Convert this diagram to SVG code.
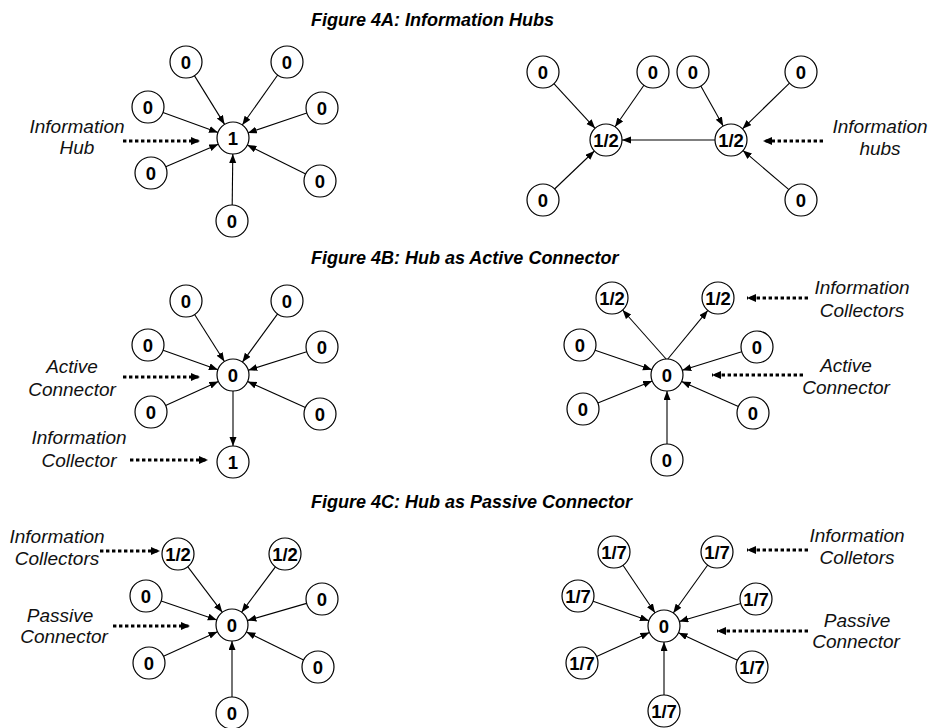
<svg xmlns="http://www.w3.org/2000/svg" width="930" height="728" viewBox="0 0 930 728">
  <style>
    .title { font-family: "Liberation Sans", Arial, sans-serif; font-size: 18px; font-weight: bold; font-style: italic; fill: #000; }
    .lbl { font-family: "Liberation Sans", Arial, sans-serif; font-size: 19px; font-style: italic; fill: #111; text-anchor: middle; }
    .node circle { fill: #fff; stroke: #000; stroke-width: 1.2; }
    .node text { font-family: "Liberation Sans", Arial, sans-serif; font-size: 18.5px; font-weight: bold; fill: #000; text-anchor: middle; }
    .edge { fill: none; stroke: #000; stroke-width: 1.1; marker-end: url(#head); }
    .pointer { fill: none; stroke: #000; stroke-width: 3; stroke-dasharray: 3.4 2.6; marker-end: url(#bighead); }
  </style>
  <defs>
    <marker id="head" markerUnits="userSpaceOnUse" markerWidth="10" markerHeight="8" refX="9" refY="3.5" orient="auto">
      <path d="M0,0 L9,3.5 L0,7 z" fill="#000"/>
    </marker>
    <marker id="bighead" markerUnits="userSpaceOnUse" markerWidth="10" markerHeight="9" refX="9" refY="4" orient="auto">
      <path d="M0,0 L9,4 L0,8 z" fill="#000"/>
    </marker>
  </defs>
  <rect width="930" height="728" fill="#fff"/>

  <!-- panel titles -->
  <text class="title" x="311" y="26">Figure 4A: Information Hubs</text>
  <text class="title" x="311" y="264">Figure 4B: Hub as Active Connector</text>
  <text class="title" x="311" y="508">Figure 4C: Hub as Passive Connector</text>

  <!-- connectors -->
  <g id="connectors">
    <!-- 4A left -->
    <line class="edge" x1="194.4" y1="75.6" x2="224.6" y2="124.4"/>
    <line class="edge" x1="277.7" y1="75.0" x2="242.3" y2="125.0"/>
    <line class="edge" x1="163.0" y1="112.5" x2="218.0" y2="132.5"/>
    <line class="edge" x1="306.8" y1="113.1" x2="247.8" y2="132.9"/>
    <line class="edge" x1="165.7" y1="166.7" x2="218.3" y2="144.3"/>
    <line class="edge" x1="305.7" y1="173.9" x2="247.3" y2="145.1"/>
    <line class="edge" x1="232.2" y1="205" x2="232.8" y2="154"/>
    <!-- 4A right -->
    <line class="edge" x1="553.9" y1="83.7" x2="595.1" y2="128.3"/>
    <line class="edge" x1="643.9" y1="85.2" x2="615.1" y2="126.8"/>
    <line class="edge" x1="554.6" y1="189.0" x2="594.4" y2="151.0"/>
    <line class="edge" x1="700.8" y1="86.0" x2="723.2" y2="126.0"/>
    <line class="edge" x1="789.5" y1="83.2" x2="742.5" y2="128.8"/>
    <line class="edge" x1="788.9" y1="189.6" x2="742.9" y2="150.4"/>
    <line class="edge" x1="715" y1="140" x2="622" y2="140"/>
    <!-- 4B left -->
    <line class="edge" x1="194.6" y1="314.5" x2="224.4" y2="361.5"/>
    <line class="edge" x1="277.6" y1="313.9" x2="242.4" y2="362.1"/>
    <line class="edge" x1="163.1" y1="350.3" x2="217.9" y2="369.7"/>
    <line class="edge" x1="306.7" y1="351.8" x2="248.3" y2="370.2"/>
    <line class="edge" x1="165.6" y1="405.4" x2="218.4" y2="381.6"/>
    <line class="edge" x1="305.4" y1="407.5" x2="247.6" y2="381.5"/>
    <line class="edge" x1="233" y1="391" x2="233" y2="446"/>
    <!-- 4B right -->
    <line class="edge" x1="667" y1="360" x2="622.6" y2="310.0"/>
    <line class="edge" x1="667" y1="360" x2="707.8" y2="310.4"/>
    <line class="edge" x1="595.1" y1="350.2" x2="651.9" y2="369.8"/>
    <line class="edge" x1="741.7" y1="351.8" x2="682.3" y2="370.2"/>
    <line class="edge" x1="597.8" y1="403.0" x2="652.2" y2="381.0"/>
    <line class="edge" x1="738.4" y1="406.5" x2="681.6" y2="381.5"/>
    <line class="edge" x1="667" y1="444" x2="667" y2="391"/>
    <!-- 4C left -->
    <line class="edge" x1="187.7" y1="566.7" x2="222.3" y2="612.3"/>
    <line class="edge" x1="275.4" y1="566.8" x2="241.6" y2="612.2"/>
    <line class="edge" x1="161.2" y1="601.1" x2="216.8" y2="619.9"/>
    <line class="edge" x1="306.6" y1="603.4" x2="247.4" y2="620.6"/>
    <line class="edge" x1="163.5" y1="656.3" x2="217.5" y2="631.7"/>
    <line class="edge" x1="303.6" y1="660.0" x2="246.4" y2="632.0"/>
    <line class="edge" x1="232" y1="697" x2="232" y2="641"/>
    <!-- 4C right -->
    <line class="edge" x1="623.0" y1="565.3" x2="655.0" y2="612.7"/>
    <line class="edge" x1="707.7" y1="565.0" x2="673.3" y2="613.0"/>
    <line class="edge" x1="593.1" y1="601.3" x2="648.9" y2="620.7"/>
    <line class="edge" x1="740.7" y1="603.5" x2="679.3" y2="621.5"/>
    <line class="edge" x1="596.6" y1="656.4" x2="649.4" y2="632.6"/>
    <line class="edge" x1="737.5" y1="660.2" x2="678.5" y2="632.8"/>
    <line class="edge" x1="664" y1="695" x2="664" y2="642"/>

    <!-- dotted label pointers -->
    <line class="pointer" x1="123" y1="141" x2="200" y2="141"/>
    <line class="pointer" x1="823" y1="141" x2="763" y2="141"/>
    <line class="pointer" x1="123" y1="377" x2="200" y2="377"/>
    <line class="pointer" x1="130" y1="460" x2="208" y2="460"/>
    <line class="pointer" x1="808" y1="298" x2="747" y2="298"/>
    <line class="pointer" x1="803" y1="375" x2="712" y2="375"/>
    <line class="pointer" x1="100" y1="551" x2="160" y2="551"/>
    <line class="pointer" x1="113" y1="626" x2="190" y2="626"/>
    <line class="pointer" x1="808" y1="550" x2="747" y2="550"/>
    <line class="pointer" x1="808" y1="631" x2="717" y2="631"/>
  </g>

  <!-- 4A left: single hub -->
  <g id="a1-hub" class="node"><circle cx="233" cy="138" r="16"/><text x="233" y="144.5">1</text></g>
  <g id="a1-n1" class="node"><circle cx="186" cy="62" r="16"/><text x="186" y="68.5">0</text></g>
  <g id="a1-n2" class="node"><circle cx="287" cy="62" r="16"/><text x="287" y="68.5">0</text></g>
  <g id="a1-n3" class="node"><circle cx="148" cy="107" r="16"/><text x="148" y="113.5">0</text></g>
  <g id="a1-n4" class="node"><circle cx="322" cy="108" r="16"/><text x="322" y="114.5">0</text></g>
  <g id="a1-n5" class="node"><circle cx="151" cy="173" r="16"/><text x="151" y="179.5">0</text></g>
  <g id="a1-n6" class="node"><circle cx="320" cy="181" r="16"/><text x="320" y="187.5">0</text></g>
  <g id="a1-n7" class="node"><circle cx="232" cy="221" r="16"/><text x="232" y="227.5">0</text></g>

  <!-- 4A right: two hubs -->
  <g id="a2-hubL" class="node"><circle cx="606" cy="140" r="16"/><text x="606" y="146.5">1/2</text></g>
  <g id="a2-hubR" class="node"><circle cx="731" cy="140" r="16"/><text x="731" y="146.5">1/2</text></g>
  <g id="a2-n1" class="node"><circle cx="543" cy="72" r="16"/><text x="543" y="78.5">0</text></g>
  <g id="a2-n2" class="node"><circle cx="653" cy="72" r="16"/><text x="653" y="78.5">0</text></g>
  <g id="a2-n3" class="node"><circle cx="543" cy="200" r="16"/><text x="543" y="206.5">0</text></g>
  <g id="a2-n4" class="node"><circle cx="693" cy="72" r="16"/><text x="693" y="78.5">0</text></g>
  <g id="a2-n5" class="node"><circle cx="801" cy="72" r="16"/><text x="801" y="78.5">0</text></g>
  <g id="a2-n6" class="node"><circle cx="801" cy="200" r="16"/><text x="801" y="206.5">0</text></g>

  <!-- 4B left: active connector with one collector -->
  <g id="b1-hub" class="node"><circle cx="233" cy="375" r="16"/><text x="233" y="381.5">0</text></g>
  <g id="b1-n1" class="node"><circle cx="186" cy="301" r="16"/><text x="186" y="307.5">0</text></g>
  <g id="b1-n2" class="node"><circle cx="287" cy="301" r="16"/><text x="287" y="307.5">0</text></g>
  <g id="b1-n3" class="node"><circle cx="148" cy="345" r="16"/><text x="148" y="351.5">0</text></g>
  <g id="b1-n4" class="node"><circle cx="322" cy="347" r="16"/><text x="322" y="353.5">0</text></g>
  <g id="b1-n5" class="node"><circle cx="151" cy="412" r="16"/><text x="151" y="418.5">0</text></g>
  <g id="b1-n6" class="node"><circle cx="320" cy="414" r="16"/><text x="320" y="420.5">0</text></g>
  <g id="b1-collector" class="node"><circle cx="233" cy="462" r="16"/><text x="233" y="468.5">1</text></g>

  <!-- 4B right: active connector with two collectors -->
  <g id="b2-hub" class="node"><circle cx="667" cy="375" r="16"/><text x="667" y="381.5">0</text></g>
  <g id="b2-c1" class="node"><circle cx="612" cy="298" r="16"/><text x="612" y="304.5">1/2</text></g>
  <g id="b2-c2" class="node"><circle cx="718" cy="298" r="16"/><text x="718" y="304.5">1/2</text></g>
  <g id="b2-n1" class="node"><circle cx="580" cy="345" r="16"/><text x="580" y="351.5">0</text></g>
  <g id="b2-n2" class="node"><circle cx="757" cy="347" r="16"/><text x="757" y="353.5">0</text></g>
  <g id="b2-n3" class="node"><circle cx="583" cy="409" r="16"/><text x="583" y="415.5">0</text></g>
  <g id="b2-n4" class="node"><circle cx="753" cy="413" r="16"/><text x="753" y="419.5">0</text></g>
  <g id="b2-n5" class="node"><circle cx="667" cy="460" r="16"/><text x="667" y="466.5">0</text></g>

  <!-- 4C left: passive connector, two collectors -->
  <g id="c1-hub" class="node"><circle cx="232" cy="625" r="16"/><text x="232" y="631.5">0</text></g>
  <g id="c1-c1" class="node"><circle cx="178" cy="554" r="16"/><text x="178" y="560.5">1/2</text></g>
  <g id="c1-c2" class="node"><circle cx="285" cy="554" r="16"/><text x="285" y="560.5">1/2</text></g>
  <g id="c1-n1" class="node"><circle cx="146" cy="596" r="16"/><text x="146" y="602.5">0</text></g>
  <g id="c1-n2" class="node"><circle cx="322" cy="599" r="16"/><text x="322" y="605.5">0</text></g>
  <g id="c1-n3" class="node"><circle cx="149" cy="663" r="16"/><text x="149" y="669.5">0</text></g>
  <g id="c1-n4" class="node"><circle cx="318" cy="667" r="16"/><text x="318" y="673.5">0</text></g>
  <g id="c1-n5" class="node"><circle cx="232" cy="713" r="16"/><text x="232" y="719.5">0</text></g>

  <!-- 4C right: passive connector, seven collectors -->
  <g id="c2-hub" class="node"><circle cx="664" cy="626" r="16"/><text x="664" y="632.5">0</text></g>
  <g id="c2-n1" class="node"><circle cx="614" cy="552" r="16"/><text x="614" y="558.5">1/7</text></g>
  <g id="c2-n2" class="node"><circle cx="717" cy="552" r="16"/><text x="717" y="558.5">1/7</text></g>
  <g id="c2-n3" class="node"><circle cx="578" cy="596" r="16"/><text x="578" y="602.5">1/7</text></g>
  <g id="c2-n4" class="node"><circle cx="756" cy="599" r="16"/><text x="756" y="605.5">1/7</text></g>
  <g id="c2-n5" class="node"><circle cx="582" cy="663" r="16"/><text x="582" y="669.5">1/7</text></g>
  <g id="c2-n6" class="node"><circle cx="752" cy="667" r="16"/><text x="752" y="673.5">1/7</text></g>
  <g id="c2-n7" class="node"><circle cx="664" cy="711" r="16"/><text x="664" y="717.5">1/7</text></g>

  <!-- italic annotations -->
  <g id="labels">
    <text class="lbl" x="77" y="133">Information</text>
    <text class="lbl" x="77" y="154">Hub</text>
    <text class="lbl" x="880" y="133">Information</text>
    <text class="lbl" x="880" y="155">hubs</text>
    <text class="lbl" x="72" y="373">Active</text>
    <text class="lbl" x="72" y="396">Connector</text>
    <text class="lbl" x="79" y="444">Information</text>
    <text class="lbl" x="79" y="467">Collector</text>
    <text class="lbl" x="862" y="294">Information</text>
    <text class="lbl" x="862" y="317">Collectors</text>
    <text class="lbl" x="846" y="372">Active</text>
    <text class="lbl" x="846" y="394">Connector</text>
    <text class="lbl" x="57" y="543">Information</text>
    <text class="lbl" x="57" y="565">Collectors</text>
    <text class="lbl" x="60" y="622">Passive</text>
    <text class="lbl" x="64" y="643">Connector</text>
    <text class="lbl" x="857" y="542">Information</text>
    <text class="lbl" x="857" y="564">Colletors</text>
    <text class="lbl" x="857" y="627">Passive</text>
    <text class="lbl" x="856" y="648">Connector</text>
  </g>
</svg>
